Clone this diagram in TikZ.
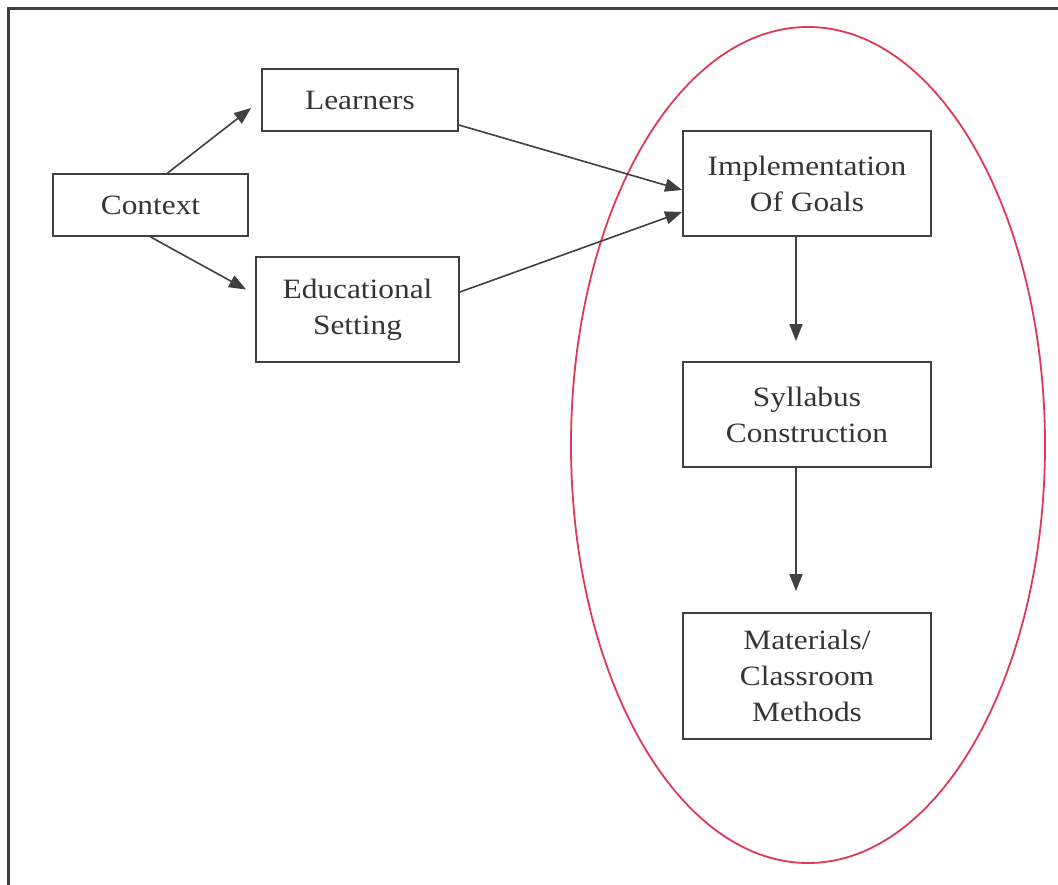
\documentclass[tikz,border=0pt]{standalone}
\usepackage{fontspec}
\setmainfont{Liberation Serif}[FakeStretch=1.12]
\usetikzlibrary{arrows.meta,calc}
\definecolor{boxc}{HTML}{404040}
\definecolor{txtc}{HTML}{353535}
\definecolor{ellc}{HTML}{E0385A}
\begin{document}
\begin{tikzpicture}[x=1pt,y=-1pt,
  box/.style={draw=boxc, line width=1.8pt, text=txtc, align=center, inner sep=0pt,
    font=\fontsize{28}{36}\selectfont},
  arr/.style={draw=boxc, line width=1.6pt, -{Triangle[length=17pt,width=13pt]}}]
\useasboundingbox (0,0) rectangle (1058,885);
\fill[white] (0,0) rectangle (1058,885);
\draw[boxc, line width=3pt] (8,885) -- (8,9) -- (1058,9);
\draw[ellc, line width=1.8pt] (808,445) ellipse [x radius=237, y radius=418];

\node[box, minimum width=195pt, minimum height=62pt] (ctx) at (150.5,205) {Context};
\node[box, minimum width=196pt, minimum height=62pt] (lrn) at (360,100) {Learners};
\node[box, minimum width=203pt, minimum height=105pt] (edu) at (357.5,309.5) {Educational\\Setting};
\node[box, minimum width=248pt, minimum height=105pt] (imp) at (807,183.5) {Implementation\\Of Goals};
\node[box, minimum width=248pt, minimum height=105pt] (syl) at (807,414.5) {Syllabus\\Construction};
\node[box, minimum width=248pt, minimum height=126pt] (mat) at (807,676) {Materials/\\Classroom\\Methods};

\draw[arr] ([xshift=17pt]ctx.north) -- ([xshift=-10pt,yshift=-8pt]lrn.west);
\draw[arr] (ctx.south) -- ([xshift=-9pt,yshift=20pt]edu.west);
\draw[arr] ([yshift=-25pt]lrn.east) -- ([yshift=-6.5pt]imp.west);
\draw[arr] ([yshift=17.5pt]edu.east) -- ([yshift=-28.5pt]imp.west);
\draw[arr] ([xshift=-11pt]imp.south) -- ([xshift=-11pt,yshift=20pt]syl.north);
\draw[arr] ([xshift=-11pt]syl.south) -- ([xshift=-11pt,yshift=21pt]mat.north);
\end{tikzpicture}
\end{document}
